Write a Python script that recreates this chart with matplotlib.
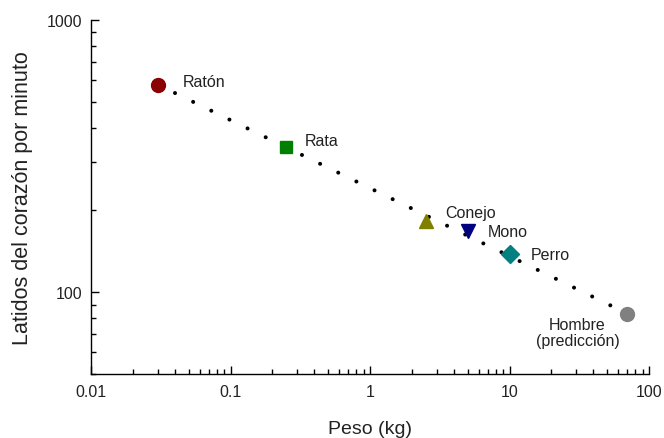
import numpy as np
import matplotlib
matplotlib.use("Agg")
import matplotlib.pyplot as plt
from matplotlib.ticker import LogLocator, FixedLocator, FixedFormatter, NullFormatter

plt.rcParams['font.family'] = ['Liberation Sans', 'DejaVu Sans']

# datos
animales = ["Ratón", "Rata", "Conejo", "Mono", "Perro", "Hombre\n(predicción)"]
peso_kg = [0.03, 0.25, 2.5, 5, 10, 70]
latidos = [578, 341, 183, 167, 138, 83]
marcadores = ["o", "s", "^", "v", "D", "o"]
colores = ["#8b0000", "#008000", "#808000", "#000080", "#008080", "#808080"]
tamanos = [10, 9, 10, 10, 9, 10]
offsets = [(25, 3), (19, 7), (20, 8), (20, 0), (21, 0), (-50, -18)]

# recta de ajuste (extremos)
ajuste_x = [0.04, 55]
ajuste_y = [539, 88.5]

x_ticks = [0.01, 0.1, 1, 10, 100]
x_labels = ["0.01", "0.1", "1", "10", "100"]
y_ticks = [100, 1000]
y_labels = ["100", "1000"]

fig = plt.figure(figsize=(6.64, 4.39), dpi=100)
ax = fig.add_axes([91 / 664, 64 / 439, 558 / 664, 354 / 439])

ax.plot(ajuste_x, ajuste_y, color="black", lw=2.9, linestyle=(0, (0.01, 5.0)),
        dash_capstyle="round", zorder=2)

for nombre, x, y, m, c, s, off in zip(animales, peso_kg, latidos, marcadores, colores, tamanos, offsets):
    ax.plot(x, y, marker=m, color=c, markersize=s, linestyle="none", zorder=3)
    if "\n" in nombre:
        ax.annotate(nombre, (x, y), xytext=off, textcoords="offset pixels",
                    ha="center", va="center", multialignment="center",
                    fontsize=11.5, color="#222222", linespacing=1.1)
    else:
        ax.annotate(nombre, (x, y), xytext=off, textcoords="offset pixels",
                    ha="left", va="center", fontsize=11.5, color="#222222")

ax.set_xscale("log")
ax.set_yscale("log")
ax.set_xlim(0.01, 100)
ax.set_ylim(50, 1000)

ax.xaxis.set_major_locator(FixedLocator(x_ticks))
ax.xaxis.set_major_formatter(FixedFormatter(x_labels))
ax.xaxis.set_minor_locator(LogLocator(base=10, subs=np.arange(2, 10)))
ax.xaxis.set_minor_formatter(NullFormatter())
ax.yaxis.set_major_locator(FixedLocator(y_ticks))
ax.yaxis.set_major_formatter(FixedFormatter(y_labels))
ax.yaxis.set_minor_locator(LogLocator(base=10, subs=np.arange(2, 10)))
ax.yaxis.set_minor_formatter(NullFormatter())

ax.spines["top"].set_visible(False)
ax.spines["right"].set_visible(False)
for sp in ["left", "bottom"]:
    ax.spines[sp].set_linewidth(1.0)

ax.tick_params(which="major", direction="in", length=5.5, width=1, labelsize=11.5,
               labelcolor="#222222", pad=7)
ax.tick_params(which="minor", direction="in", length=3.6, width=1)
ax.tick_params(axis="y", which="major", pad=6)

ax.set_xlabel("Peso (kg)", fontsize=14, labelpad=15, color="#222222")
ax.set_ylabel("Latidos del corazón por minuto", fontsize=15.5, labelpad=10.5, color="#222222")

fig.savefig("out.png", dpi=100)
